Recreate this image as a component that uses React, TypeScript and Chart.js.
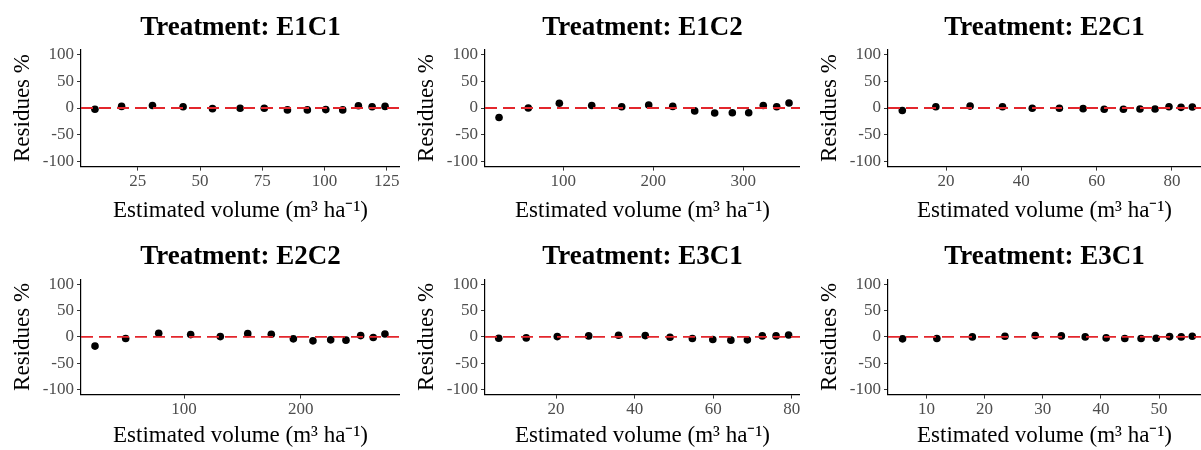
import React, { useEffect, useRef } from "react";
import { Chart, registerables } from "chart.js";

Chart.register(...registerables);

// ---------- data ----------
const TITLES = [
  "Treatment: E1C1",
  "Treatment: E1C2",
  "Treatment: E2C1",
  "Treatment: E2C2",
  "Treatment: E3C1",
  "Treatment: E3C1",
];

const X_LABEL = "Estimated volume (m³ ha⁻¹)";
const Y_LABEL = "Residues %";

const Y_TICKS = [-100, -50, 0, 50, 100];
const Y_LIMITS = [-110, 110];

const e1c1Volume = [7.8, 18.5, 30.9, 43.2, 55.0, 66.1, 75.8, 85.1, 93.1, 100.5, 107.3, 113.6, 119.1, 124.3];
const e1c1Residue = [-2.4, 3.0, 4.8, 2.4, -1.2, -0.6, -0.6, -3.6, -3.6, -3.0, -3.6, 4.2, 2.4, 3.0];
const e1c1Ticks = [25, 50, 75, 100, 125];
const e1c1Limits = [2.2, 130.3];

const e1c2Volume = [28.6, 61.1, 95.6, 131.6, 164.9, 194.9, 221.6, 246.0, 268.2, 287.8, 306.0, 322.2, 337.1, 350.8];
const e1c2Residue = [-17.9, 0.0, 8.9, 4.8, 2.4, 5.4, 3.0, -5.4, -9.5, -8.9, -8.9, 4.8, 2.4, 9.5];
const e1c2Ticks = [100, 200, 300];
const e1c2Limits = [13, 363];

const e2c1Volume = [8.4, 17.3, 26.4, 35.0, 42.9, 50.1, 56.4, 62.0, 67.1, 71.5, 75.5, 79.2, 82.4, 85.4];
const e2c1Residue = [-4.8, 2.4, 3.6, 2.4, -0.6, -0.6, -1.2, -2.4, -2.4, -1.8, -1.8, 2.4, 1.2, 1.8];
const e2c1Ticks = [20, 40, 60, 80];
const e2c1Limits = [4.6, 87.7];

const e2c2Volume = [23.7, 50.0, 78.3, 105.7, 131.1, 154.6, 174.8, 193.7, 210.5, 225.7, 238.8, 251.4, 262.2, 272.2];
const e2c2Residue = [-17.5, -3.1, 6.9, 4.4, 0.6, 6.2, 5.0, -3.7, -7.5, -5.6, -6.2, 2.5, -1.2, 5.6];
const e2c2Ticks = [100, 200];
const e2c2Limits = [11.7, 285.1];

const e3c1aVolume = [5.4, 12.4, 20.3, 28.3, 35.9, 42.7, 49.0, 54.7, 59.9, 64.5, 68.7, 72.5, 76.0, 79.2];
const e3c1aResidue = [-2.5, -1.9, 0.6, 1.9, 3.1, 2.5, -0.6, -3.1, -5.0, -6.2, -5.6, 1.9, 1.9, 3.7];
const e3c1aTicks = [20, 40, 60, 80];
const e3c1aLimits = [1.9, 82.1];

const e3c1bVolume = [5.9, 11.8, 17.9, 23.5, 28.7, 33.2, 37.3, 40.9, 44.1, 46.9, 49.5, 51.8, 53.8, 55.7];
const e3c1bResidue = [-3.7, -3.1, 0.0, 1.2, 2.5, 1.9, 0.0, -1.9, -3.1, -3.1, -2.5, 0.6, 0.0, 1.2];
const e3c1bTicks = [10, 20, 30, 40, 50];
const e3c1bLimits = [3.4, 57.2];

const PANELS = [
  { title: TITLES[0], vol: e1c1Volume, res: e1c1Residue, ticks: e1c1Ticks, lim: e1c1Limits },
  { title: TITLES[1], vol: e1c2Volume, res: e1c2Residue, ticks: e1c2Ticks, lim: e1c2Limits },
  { title: TITLES[2], vol: e2c1Volume, res: e2c1Residue, ticks: e2c1Ticks, lim: e2c1Limits },
  { title: TITLES[3], vol: e2c2Volume, res: e2c2Residue, ticks: e2c2Ticks, lim: e2c2Limits },
  { title: TITLES[4], vol: e3c1aVolume, res: e3c1aResidue, ticks: e3c1aTicks, lim: e3c1aLimits },
  { title: TITLES[5], vol: e3c1bVolume, res: e3c1bResidue, ticks: e3c1bTicks, lim: e3c1bLimits },
];

// ---------- layout / style ----------
const FONT = "'Liberation Serif', 'Times New Roman', Times, serif";
const COL_X = [0, 400, 800];
const COL_W = [400, 400, 401];
const COL_PAD = [0, 4, 7];
const ROW_Y = [0, 225];
const ROW_H = 225;
const ROW_STYLE = [
  { titleTop: 11.5, titleBottom: 5.5, xAxisH: 58.4 },
  { titleTop: 15.5, titleBottom: 6.3, xAxisH: 55.4 },
];

function zeroPad(s: any) {
  s.paddingLeft = 0;
  s.paddingRight = 0;
  s.paddingTop = 0;
  s.paddingBottom = 0;
}

function Panel({ idx }: { idx: number }) {
  const ref = useRef<HTMLCanvasElement | null>(null);
  const col = idx % 3;
  const row = Math.floor(idx / 3);
  const p = PANELS[idx];

  useEffect(() => {
    if (!ref.current) return;
    const rs = ROW_STYLE[row];
    const chart = new Chart(ref.current, {
      type: "scatter",
      data: {
        datasets: [
          {
            type: "line",
            data: [
              { x: p.lim[0], y: 0 },
              { x: p.lim[1], y: 0 },
            ],
            borderColor: "#e3262c",
            borderWidth: 1.8,
            borderDash: [12, 6],
            pointRadius: 0,
            fill: false,
            order: 0,
          } as any,
          {
            type: "scatter",
            data: p.vol.map((v, i) => ({ x: v, y: p.res[i] })),
            backgroundColor: "#000",
            borderWidth: 0,
            pointRadius: 3.8,
            order: 1,
          },
        ],
      },
      options: {
        animation: false,
        responsive: false,
        devicePixelRatio: 1,
        layout: {
          autoPadding: false,
          padding: { left: COL_PAD[col], right: 0, top: 0, bottom: 0 },
        },
        plugins: {
          legend: { display: false },
          tooltip: { enabled: false },
          title: {
            display: true,
            text: p.title,
            fullSize: false,
            color: "#000",
            font: { family: FONT, size: 27, weight: "bold" },
            padding: { top: rs.titleTop, bottom: rs.titleBottom },
          },
        },
        scales: {
          x: {
            type: "linear",
            min: p.lim[0],
            max: p.lim[1],
            afterBuildTicks: (s: any) => {
              s.ticks = p.ticks.map((v) => ({ value: v }));
            },
            afterFit: (s: any) => {
              s.height = rs.xAxisH;
              zeroPad(s);
            },
            ticks: {
              autoSkip: false,
              maxRotation: 0,
              padding: 1,
              color: "#4d4d4d",
              font: { family: FONT, size: 17 },
            },
            grid: {
              display: true,
              drawOnChartArea: false,
              drawTicks: true,
              tickLength: 4,
              color: "#333",
              lineWidth: 1,
            },
            border: { display: true, color: "#000", width: 1.2 },
            title: {
              display: true,
              text: X_LABEL,
              color: "#000",
              font: { family: FONT, size: 23 },
              padding: { top: 0, bottom: 0 },
            },
          },
          y: {
            type: "linear",
            min: Y_LIMITS[0],
            max: Y_LIMITS[1],
            afterBuildTicks: (s: any) => {
              s.ticks = Y_TICKS.map((v) => ({ value: v }));
            },
            afterFit: (s: any) => {
              s.width = 81;
              zeroPad(s);
            },
            ticks: {
              autoSkip: false,
              padding: 3,
              color: "#4d4d4d",
              font: { family: FONT, size: 17 },
            },
            grid: {
              display: true,
              drawOnChartArea: false,
              drawTicks: true,
              tickLength: 4,
              color: "#333",
              lineWidth: 1,
            },
            border: { display: true, color: "#000", width: 1.2 },
            title: {
              display: true,
              text: Y_LABEL,
              color: "#000",
              font: { family: FONT, size: 23 },
              padding: { top: 8.7, bottom: 0 },
            },
          },
        },
      },
    } as any);
    return () => chart.destroy();
  }, [idx]);

  return (
    <canvas
      ref={ref}
      width={COL_W[col]}
      height={ROW_H}
      style={{
        position: "absolute",
        left: COL_X[col],
        top: ROW_Y[row],
        width: COL_W[col],
        height: ROW_H,
      }}
    />
  );
}

export default function App() {
  return (
    <div
      style={{
        position: "fixed",
        left: 0,
        top: 0,
        width: 1201,
        height: 450,
        background: "#fff",
        overflow: "hidden",
      }}
    >
      {PANELS.map((_, i) => (
        <Panel key={i} idx={i} />
      ))}
    </div>
  );
}
